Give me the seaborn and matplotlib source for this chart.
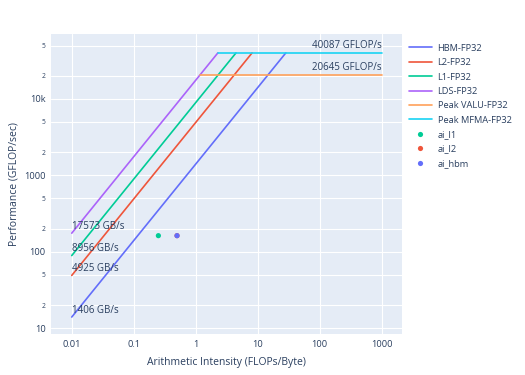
import numpy as np
import pandas as pd
import matplotlib
matplotlib.use("Agg")
import matplotlib.pyplot as plt
import seaborn as sns

# Data
bw_names = ["HBM-FP32", "L2-FP32", "L1-FP32", "LDS-FP32"]
bw_values = [1406, 4925, 8956, 17573]          # GB/s
peak_names = ["Peak VALU-FP32", "Peak MFMA-FP32"]
peak_values = [20645, 40087]                    # GFLOP/s
ai_min, ai_max = 0.01, 1000

point_names = ["ai_l1", "ai_l2", "ai_hbm"]
point_x = [0.25, 0.5, 0.5]
point_y = [163, 163, 163]

colors = ["#636EFA", "#EF553B", "#00CC96", "#AB63FA", "#FFA15A", "#19D3F3"]
txt = "#2a3f5f"

# Build roofline segments
top_peak = max(peak_values)
rows = []
for name, bw in zip(bw_names, bw_values):
    knee = top_peak / bw
    rows.append((name, ai_min, bw * ai_min))
    rows.append((name, knee, top_peak))
for name, pk in zip(peak_names, peak_values):
    start = pk / max(bw_values)
    rows.append((name, start, pk))
    rows.append((name, ai_max, pk))
lines = pd.DataFrame(rows, columns=["series", "x", "y"])
pts = pd.DataFrame({"series": point_names, "x": point_x, "y": point_y})

sns.set_style("white")
plt.rcParams["font.family"] = ["Open Sans", "DejaVu Sans"]

fig = plt.figure(figsize=(5.25, 3.75), dpi=100)
ax = fig.add_axes([51 / 525, 1 - 334 / 375, 351 / 525, 300 / 375])
ax.set_facecolor("#E5ECF6")
for s in ax.spines.values():
    s.set_visible(False)

line_order = bw_names + peak_names
sns.lineplot(data=lines, x="x", y="y", hue="series", hue_order=line_order,
             palette=colors, linewidth=1.2, ax=ax, estimator=None, sort=False, zorder=3)
pt_colors = {"ai_l1": colors[2], "ai_l2": colors[1], "ai_hbm": colors[0]}
sns.scatterplot(data=pts, x="x", y="y", hue="series", hue_order=point_names,
                palette=pt_colors, s=14, linewidth=0, ax=ax, zorder=4)

ax.set_xscale("log")
ax.set_yscale("log")
ax.set_xlim(10 ** -2.335, 10 ** 3.33)
ax.set_ylim(10 ** 0.926, 10 ** 4.85)

# ticks and grid
xt = [0.01, 0.1, 1, 10, 100, 1000]
ax.set_xticks(xt)
ax.set_xticklabels(["0.01", "0.1", "1", "10", "100", "1000"])
ax.xaxis.set_minor_locator(matplotlib.ticker.NullLocator())
yt, yl, major = [], [], []
for dec, lab in [(10, "10"), (100, "100"), (1000, "1000"), (10000, "10k")]:
    for m in (1, 2, 5):
        v = dec * m
        if v > 10 ** 4.85:
            continue
        yt.append(v)
        yl.append(lab if m == 1 else str(m))
        major.append(m == 1)
ax.set_yticks(yt)
ax.set_yticklabels(yl)
ax.yaxis.set_minor_locator(matplotlib.ticker.NullLocator())
for lab, mj in zip(ax.get_yticklabels(), major):
    lab.set_fontsize(6.7 if mj else 4.8)
    lab.set_color(txt)
for lab in ax.get_xticklabels():
    lab.set_fontsize(6.7)
    lab.set_color(txt)
ax.tick_params(length=0, pad=4)
ax.grid(True, color="white", linewidth=0.8)
ax.set_axisbelow(True)

ax.set_xlabel("Arithmetic Intensity (FLOPs/Byte)", fontsize=7.5, color=txt, labelpad=6)
ax.set_ylabel("Performance (GFLOP/sec)", fontsize=7.5, color=txt, labelpad=3)

# annotations
for bw in bw_values:
    ax.annotate(f"{bw} GB/s", (ai_min, bw * ai_min), xytext=(0, 0.8),
                textcoords="offset points", fontsize=7.0, color=txt,
                ha="left", va="bottom", zorder=5)
for pk in peak_values:
    ax.annotate(f"{pk} GFLOP/s", (ai_max, pk), xytext=(0, 1.2),
                textcoords="offset points", fontsize=7.0, color=txt,
                ha="right", va="bottom", zorder=5)

handles, labels = ax.get_legend_handles_labels()
ax.legend(handles, labels, loc="upper left", bbox_to_anchor=(405 / 525, 1 - 40 / 375),
          bbox_transform=fig.transFigure, frameon=False, fontsize=6.7,
          handlelength=2.5, labelspacing=0.58, handletextpad=0.6,
          labelcolor=txt, borderaxespad=0)

fig.savefig("out.png", dpi=100)
